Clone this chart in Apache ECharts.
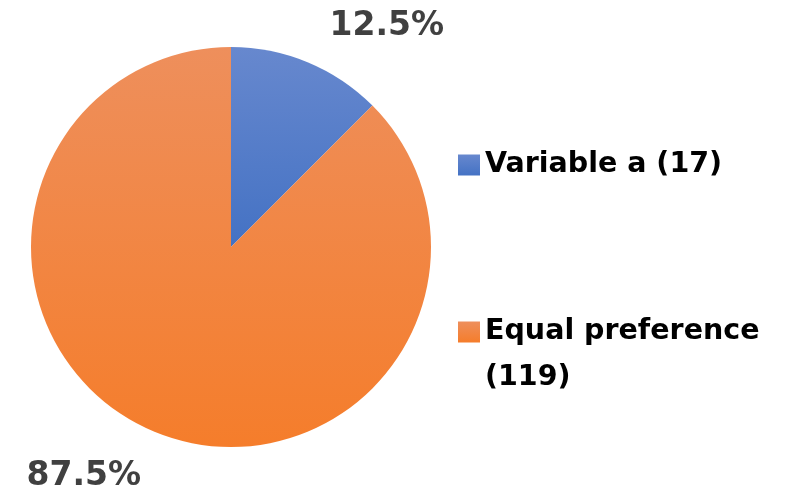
<!DOCTYPE html>
<html>
<head>
<meta charset="utf-8">
<script src="https://cdn.jsdelivr.net/npm/echarts@6/dist/echarts.min.js"></script>
<style>
  html, body { margin: 0; padding: 0; background: #fff; }
  #chart { width: 797px; height: 491px; }
</style>
</head>
<body>
<div id="chart"></div>
<script>
// Response counts per preference group
const categories = ['Variable a', 'Equal preference'];
const counts = [17, 119];

// Slice fills: vertical gradients, lighter at the top
const sliceColors = [
  ['#6788CE', '#4472C4'],
  ['#EE8F5C', '#F57D2B']
];

// Per-slice placement of the outside percentage labels
const labelPlacement = [
  { length: 39, length2: 2, gap: 5 },
  { length: 48, length2: 0, gap: -5 }
];

const FONT = '"DejaVu Sans", sans-serif';
const LEGEND_LINE = 46;

const chart = echarts.init(document.getElementById('chart'), null, { renderer: 'canvas' });

const seriesData = categories.map((name, i) => ({
  name: name,
  value: counts[i],
  itemStyle: {
    color: new echarts.graphic.LinearGradient(0, 0, 0, 1, [
      { offset: 0, color: sliceColors[i][0] },
      { offset: 1, color: sliceColors[i][1] }
    ])
  },
  label: { distanceToLabelLine: labelPlacement[i].gap },
  labelLine: { show: false, length: labelPlacement[i].length, length2: labelPlacement[i].length2 }
}));

chart.setOption({
  backgroundColor: '#ffffff',
  animation: false,
  legend: {
    orient: 'vertical',
    left: 453,
    top: 137,
    itemWidth: 22,
    itemHeight: 21,
    itemGap: 75,
    icon: 'rect',
    formatter: function (name) {
      const idx = categories.indexOf(name);
      const text = name + ' (' + counts[idx] + ')';
      // Long entries wrap onto a second line; a blank leading line keeps
      // the swatch level with the first line of text.
      return text.length > 18 ? '\n' + name + '\n(' + counts[idx] + ')' : text;
    },
    textStyle: {
      fontFamily: FONT,
      fontWeight: 'bold',
      fontSize: 28.5,
      color: '#000000',
      lineHeight: LEGEND_LINE
    }
  },
  series: [{
    type: 'pie',
    center: [231, 247],
    radius: 200,
    startAngle: 90,
    clockwise: true,
    avoidLabelOverlap: false,
    label: {
      show: true,
      position: 'outside',
      formatter: '{d}%',
      fontFamily: FONT,
      fontWeight: 'bold',
      fontSize: 33,
      color: '#404040'
    },
    labelLine: { show: false },
    emphasis: { disabled: true },
    data: seriesData
  }]
});
</script>
</body>
</html>
